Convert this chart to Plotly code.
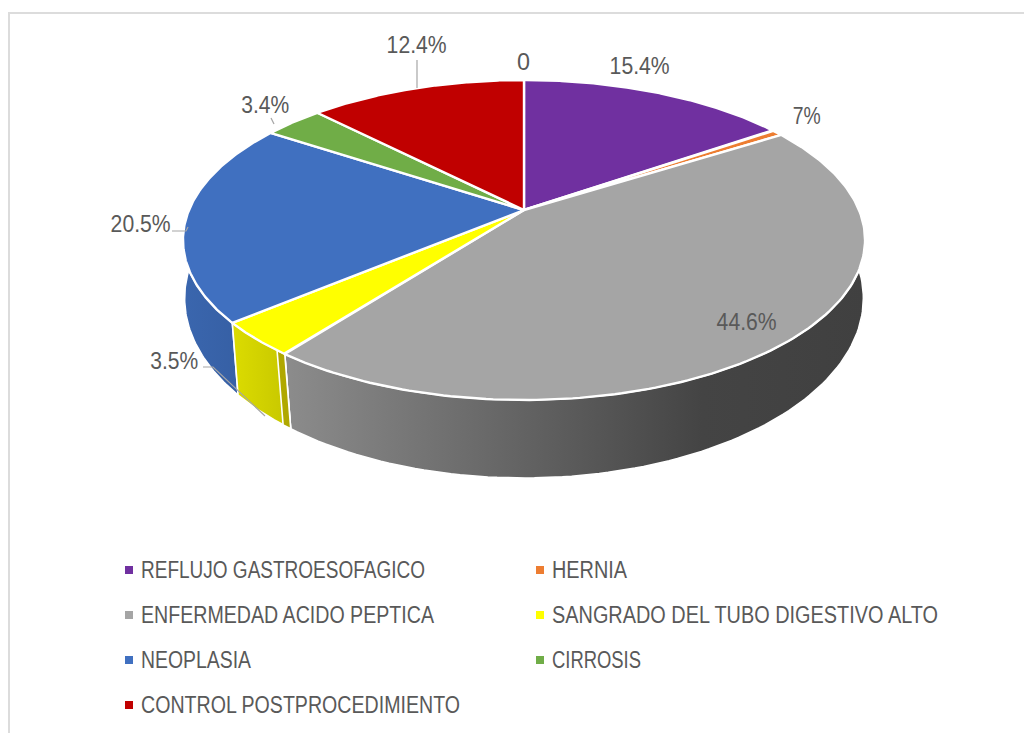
import json
import numpy as np
import plotly.graph_objects as go

categories = ["REFLUJO GASTROESOFAGICO", "HERNIA", "ENFERMEDAD ACIDO PEPTICA",
              "SANGRADO DEL TUBO DIGESTIVO ALTO", "NEOPLASIA", "CIRROSIS",
              "CONTROL POSTPROCEDIMIENTO"]
values = [15.4, 0.7, 44.6, 3.5, 20.5, 3.4, 12.4]
value_labels = ["15.4%", "7%", "44.6%", "3.5%", "20.5%", "3.4%", "12.4%", "0"]
colors = ["#7030a0", "#ed7d31", "#a5a5a5", "#ffff00", "#4070c0", "#70ad47", "#c00000"]
wall_grad = [["#5a2680", "#5a2680"], ["#be6427", "#be6427"],
             [[0, "#8c8c8c"], [0.72, "#444444"], [1, "#404040"]],
             ["#dcdc00", "#c6c600"], ["#3a66ae", "#345c9f"],
             ["#5a8a39", "#5a8a39"], ["#9a0000", "#9a0000"]]

# rendered text widths, px (the reference uses a narrower face than any installed font)
legend_widths = [284, 75, 293, 386, 110, 89, 319]
label_widths = [60, 28, 60, 48, 60, 48, 60, 13]

# view geometry
CX = 524.0
TOP = dict(k=335.0, a=-115.0, b=210.0, c=0.1875)
BOT = dict(k=335.0, a=-132.0, b=269.5, c=0.16)
FONT = "Liberation Sans"
TXT = "#595959"

def proj(deg, g):
    t = np.radians(deg)
    u, v = np.sin(t), np.cos(t)
    w = 1 + g["c"] * v
    return CX + g["k"] * u / w, (g["a"] * v + g["b"]) / w

total = sum(values)
edges = np.concatenate([[0], np.cumsum(values) / total * 360])
fig = go.Figure()

def wall(a0, a1, fc=None, grad=None):
    ang = np.linspace(a0, a1, 120)
    xt, yt = proj(ang, TOP)
    xb, yb = proj(ang[::-1], BOT)
    x = np.r_[xt, xb, xt[0]]
    y = np.r_[yt, yb, yt[0]]
    kw = dict(x=x, y=y, mode="lines", fill="toself", showlegend=False, hoverinfo="skip",
              line=dict(color="white", width=1.6))
    if grad is not None:
        cs = grad if not isinstance(grad[0], str) else [[0, grad[0]], [1, grad[1]]]
        kw["fillgradient"] = dict(type="horizontal", colorscale=cs)
    else:
        kw["fillcolor"] = fc
    fig.add_trace(go.Scatter(**kw))

for i in [0, 1, 6, 5, 4, 2, 3]:
    wall(edges[i], edges[i + 1], grad=wall_grad[i])
# narrow cut face of the yellow slice
wall(edges[3], edges[3] + 1.6, fc="#b0a800")

for i in range(len(values)):
    ang = np.linspace(edges[i], edges[i + 1], 160)
    x, y = proj(ang, TOP)
    ax, ay = CX, TOP["b"]
    fig.add_trace(go.Scatter(x=np.r_[ax, x, ax], y=np.r_[ay, y, ay], mode="lines", fill="toself",
                             fillcolor=colors[i], line=dict(color="white", width=2.4),
                             name=categories[i], showlegend=False, hoverinfo="name+text",
                             text=[value_labels[i]] * (len(ang) + 2)))

# leader lines
leaders = [([172, 186, 188], [231, 231, 227]),
           ([203, 213, 265], [367, 367, 416]),
           ([417, 417], [60, 88]),
           ([271, 274], [118, 124])]
for lx, ly in leaders:
    fig.add_trace(go.Scatter(x=lx, y=ly, mode="lines", line=dict(color="#a6a6a6", width=1.2),
                             showlegend=False, hoverinfo="skip"))

label_pos = [(639, 66), (806, 116), (746, 322), (174, 361), (140, 224), (265, 105), (416, 45), (523, 62)]
ann = []
for t, (x, y) in zip(value_labels, label_pos):
    ann.append(dict(x=x, y=y, text=t, showarrow=False, xanchor="center", yanchor="middle",
                    font=dict(family=FONT, size=23, color=TXT)))

legend_pos = [(125, 570), (536, 570), (125, 615), (536, 615), (125, 660), (536, 660), (125, 705)]
shapes = [dict(type="line", x0=9, x1=9, y0=12, y1=740, line=dict(color="#dcdcdc", width=2)),
          dict(type="line", x0=9, x1=1030, y0=13, y1=13, line=dict(color="#dcdcdc", width=2))]
for name, col, (x, y) in zip(categories, colors, legend_pos):
    shapes.append(dict(type="rect", x0=x, x1=x + 8, y0=y - 4, y1=y + 4, fillcolor=col, line=dict(width=0)))
    ann.append(dict(x=x + 14, y=y, text=name, showarrow=False, xanchor="left", yanchor="middle",
                    font=dict(family=FONT, size=23, color=TXT)))

fig.update_layout(width=1024, height=733, margin=dict(l=0, r=0, t=0, b=0),
                  paper_bgcolor="white", plot_bgcolor="white", showlegend=False,
                  xaxis=dict(range=[0, 1024], visible=False, fixedrange=True),
                  yaxis=dict(range=[733, 0], visible=False, fixedrange=True),
                  annotations=ann, shapes=shapes)

label_w = json.dumps(dict(zip(value_labels, label_widths)))
legend_w = json.dumps(dict(zip(categories, legend_widths)))
narrow_js = """
document.body.style.margin='0';document.body.style.overflow='hidden';
var LW=%s, GW=%s;
document.querySelectorAll('.annotation-text').forEach(function(el){
  var t=el.textContent, L=el.getComputedTextLength(), isLeg=(t in GW);
  var w=isLeg?GW[t]:LW[t];
  el.setAttribute('lengthAdjust','spacingAndGlyphs');
  el.setAttribute('textLength',w);
  if(isLeg){el.setAttribute('x',parseFloat(el.getAttribute('x'))-(L-w)/2);}
});
""" % (label_w, legend_w)
fig.write_html("out.html", post_script=narrow_js, config=dict(displayModeBar=False))
